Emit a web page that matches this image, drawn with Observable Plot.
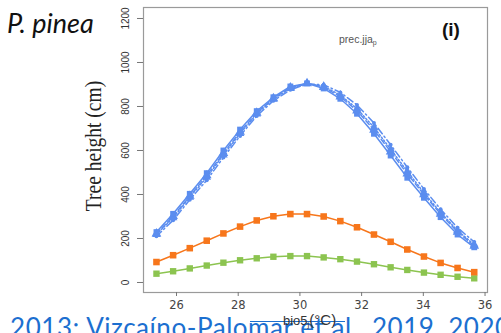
<!DOCTYPE html>
<html><head><meta charset="utf-8">
<script src="https://cdn.jsdelivr.net/npm/d3@7"></script>
<script src="https://cdn.jsdelivr.net/npm/@observablehq/plot@0.6"></script>
<style>
body{margin:0;background:#fff;}
#wrap{position:relative;width:501px;height:333px;overflow:hidden;background:#fff;}
.abs{position:absolute;white-space:nowrap;}
</style></head><body><div id="wrap"></div>
<script>
// bio5 (°C) grid of the model predictions
const bio5 = [25.35, 25.89, 26.43, 26.98, 27.52, 28.06, 28.60, 29.14, 29.69, 30.23,
              30.77, 31.31, 31.85, 32.40, 32.94, 33.48, 34.02, 34.56, 35.11, 35.65];
// Tree height (cm)
const blueSolid   = [229, 312, 403, 497, 600, 695, 779, 842, 891, 905, 882, 835, 767, 676, 577, 476, 385, 297, 218, 160];
const blueDashed  = [222, 301, 393, 486, 588, 684, 771, 837, 886, 905, 888, 845, 781, 693, 595, 494, 400, 311, 230, 166];
const blueDotted  = [218, 294, 387, 478, 580, 677, 766, 833, 882, 904, 892, 852, 790, 705, 606, 505, 408, 318, 236, 172];
const blueDotDash = [210, 283, 376, 465, 568, 666, 757, 826, 876, 902, 899, 864, 807, 725, 626, 524, 425, 333, 249, 184];
const orange      = [93, 124, 156, 190, 223, 254, 282, 301, 311, 311, 300, 279, 251, 218, 185, 150, 118, 89, 66, 47];
const green       = [40, 51, 64, 77, 90, 101, 110, 117, 120, 120, 114, 106, 95, 83, 69, 57, 45, 35, 26, 19];
const xTicks = [26, 28, 30, 32, 34, 36];
const yTicks = [0, 200, 400, 600, 800, 1000, 1200];

const BLUE = "#5b8def", ORANGE = "#f7761b", GREEN = "#8cc450";
const toRows = arr => bio5.map((x, i) => ({x, y: arr[i]}));

const series = [
  {rows: toRows(green), color: GREEN, dash: null, symbol: "square", r: 3.6},
  {rows: toRows(orange), color: ORANGE, dash: null, symbol: "square", r: 3.7},
  {rows: toRows(blueDotDash), color: BLUE, dash: "7,3,1.5,3", symbol: "circle", r: 2},
  {rows: toRows(blueDotted), color: BLUE, dash: "1.5,2", symbol: "triangle", r: 3.2},
  {rows: toRows(blueDashed), color: BLUE, dash: "5,3", symbol: "triangle", r: 3.6},
  {rows: toRows(blueSolid), color: BLUE, dash: null, symbol: "square", r: 3.3},
];

const marks = [Plot.frame({stroke: "#9a9a9a", strokeWidth: 1.2})];
for (const s of series) {
  marks.push(Plot.line(s.rows, {x: "x", y: "y", stroke: s.color, strokeWidth: 1.5, strokeDasharray: s.dash}));
  marks.push(Plot.dot(s.rows, {x: "x", y: "y", symbol: s.symbol, fill: s.color, stroke: "none", r: s.r}));
}
marks.push(Plot.axisX({ticks: xTicks, tickSize: 4, tickPadding: 4, fontSize: 11.5, label: null,
  stroke: "#777", color: "#444", fontFamily: "DejaVu Sans"}));
marks.push(Plot.axisY({ticks: yTicks, tickSize: 6, tickFormat: () => "", label: null, stroke: "#777"}));
marks.push(Plot.text(yTicks, {y: d => d, text: d => String(d), frameAnchor: "left", dx: -15,
  rotate: -90, textAnchor: "middle", lineAnchor: "bottom", fontSize: 10, fill: "#333",
  fontFamily: "Liberation Sans"}));

const chart = Plot.plot({
  width: 501, height: 333,
  marginLeft: 143, marginRight: 14, marginTop: 7, marginBottom: 41,
  x: {domain: [24.93, 36.08]},
  y: {domain: [-45.5, 1250]},
  style: {background: "transparent", overflow: "visible"},
  marks
});
const wrap = document.getElementById("wrap");
chart.style.position = "absolute";
chart.style.left = "0px";
chart.style.top = "0px";
wrap.appendChild(chart);

function addText(html, css) {
  const d = document.createElement("div");
  d.className = "abs";
  d.innerHTML = html;
  Object.assign(d.style, css);
  wrap.appendChild(d);
  return d;
}
addText("P. pinea", {left: "7px", top: "9px", font: "italic 27px Lato", lineHeight: "27px", color: "#111"});
addText("Tree height (cm)", {left: "93px", top: "146px", font: "19.5px 'Liberation Serif'", lineHeight: "19.5px",
  color: "#222", transform: "translate(-50%,-50%) rotate(-90deg) scale(1,1.2)"});
addText("(i)", {left: "442px", top: "20px", font: "bold 19px 'Liberation Sans'", lineHeight: "19px", color: "#111"});
addText("prec.jja<span style='font-size:7px;vertical-align:-2px'>p</span>",
  {left: "339px", top: "34px", font: "10.5px 'Liberation Sans'", lineHeight: "10.5px", color: "#555"});
addText("2013; Vizcaíno-Palomar et al., 2019, 2020",
  {left: "10px", top: "313.5px", font: "26px Lato", lineHeight: "26px", letterSpacing: "0.55px", color: "#1c6fd0"});
addText("", {left: "250px", top: "321px", width: "95px", height: "1px", background: "#1c6fd0"});
addText("bio5<span style='font-size:8px;vertical-align:-2px'>j</span><span style='font-size:15px'>(°C)</span>",
  {left: "283px", top: "313px", font: "13px 'Liberation Sans'", lineHeight: "13px", color: "#333"});
</script>
</body></html>
